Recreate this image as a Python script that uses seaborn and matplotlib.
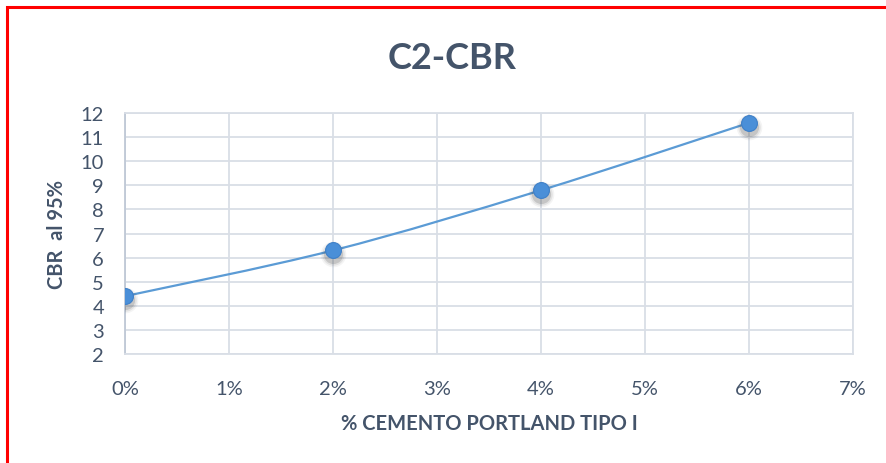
import numpy as np
import pandas as pd
import matplotlib
matplotlib.use('Agg')
import matplotlib.pyplot as plt
import seaborn as sns
from matplotlib.path import Path
from matplotlib.patches import PathPatch, Rectangle
from matplotlib.ticker import FuncFormatter

# Data
cemento = [0.00, 0.02, 0.04, 0.06]
cbr = [4.4, 6.3, 8.8, 11.6]
x_ticks = [0.00, 0.01, 0.02, 0.03, 0.04, 0.05, 0.06, 0.07]
y_ticks = list(range(2, 13))

df = pd.DataFrame({'cemento': cemento, 'cbr': cbr})

sns.set_style('white')
plt.rcParams['font.family'] = ['Lato', 'DejaVu Sans']

txt = '#44546A'
grid_c = '#D9DEE6'
line_c = '#5B9BD5'

fig = plt.figure(figsize=(8.86, 4.64), dpi=100)
ax = fig.add_axes([0.141, 0.235, 0.822, 0.519])

# smoothed line (Excel-style, Catmull-Rom bezier through the points)
xs = np.array(cemento)
ys = np.array(cbr)
verts = [(xs[0], ys[0])]
codes = [Path.MOVETO]
n = len(xs)
for i in range(n - 1):
    p0 = (xs[max(i - 1, 0)], ys[max(i - 1, 0)])
    p1 = (xs[i], ys[i])
    p2 = (xs[i + 1], ys[i + 1])
    p3 = (xs[min(i + 2, n - 1)], ys[min(i + 2, n - 1)])
    c1 = (p1[0] + (p2[0] - p0[0]) / 6, p1[1] + (p2[1] - p0[1]) / 6)
    c2 = (p2[0] - (p3[0] - p1[0]) / 6, p2[1] - (p3[1] - p1[1]) / 6)
    verts += [c1, c2, p2]
    codes += [Path.CURVE4] * 3
ax.add_patch(PathPatch(Path(verts, codes), fill=False, edgecolor=line_c, lw=1.6, zorder=3))

# marker shadow (soft, below the marker)
for s, a in [(340, 0.06), (260, 0.1), (190, 0.18)]:
    ax.scatter(np.array(cemento), np.array(cbr) - 0.16, s=s, color='#444444',
               alpha=a, linewidths=0, zorder=4)
sns.scatterplot(data=df, x='cemento', y='cbr', ax=ax, s=130, color='#4A8FD8',
                edgecolor='#3F80C8', linewidth=0.8, zorder=5, legend=False)

ax.set_xlim(0, 0.07)
ax.set_ylim(2, 12)
ax.set_xticks(x_ticks)
ax.set_yticks(y_ticks)
ax.xaxis.set_major_formatter(FuncFormatter(lambda v, p: f'{v*100:.0f}%'))
ax.grid(True, color=grid_c, lw=1.3, zorder=0)
ax.set_axisbelow(True)
for k, sp in ax.spines.items():
    sp.set_visible(True)
    sp.set_color(grid_c)
    sp.set_linewidth(1.3)
ax.spines['left'].set_color('#BFC8D6')
ax.tick_params(axis='both', length=0, labelsize=14.5, colors=txt)
ax.tick_params(axis='y', pad=15)
ax.tick_params(axis='x', pad=19)

ax.set_xlabel('% CEMENTO PORTLAND TIPO I', fontsize=14.5, fontweight='bold', color=txt, labelpad=11)
ax.set_ylabel('CBR  al 95%', fontsize=14.5, fontweight='bold', color=txt, labelpad=10)
fig.suptitle('C2-CBR', x=0.51, y=0.91, fontsize=26, fontweight='bold', color=txt)

fig.patches.append(Rectangle((7 / 886, -0.1), 1.2, 1 - 8 / 464 + 0.1, transform=fig.transFigure,
                             fill=False, edgecolor='#FF0000', lw=2.2))

fig.savefig('out.png', dpi=100)
